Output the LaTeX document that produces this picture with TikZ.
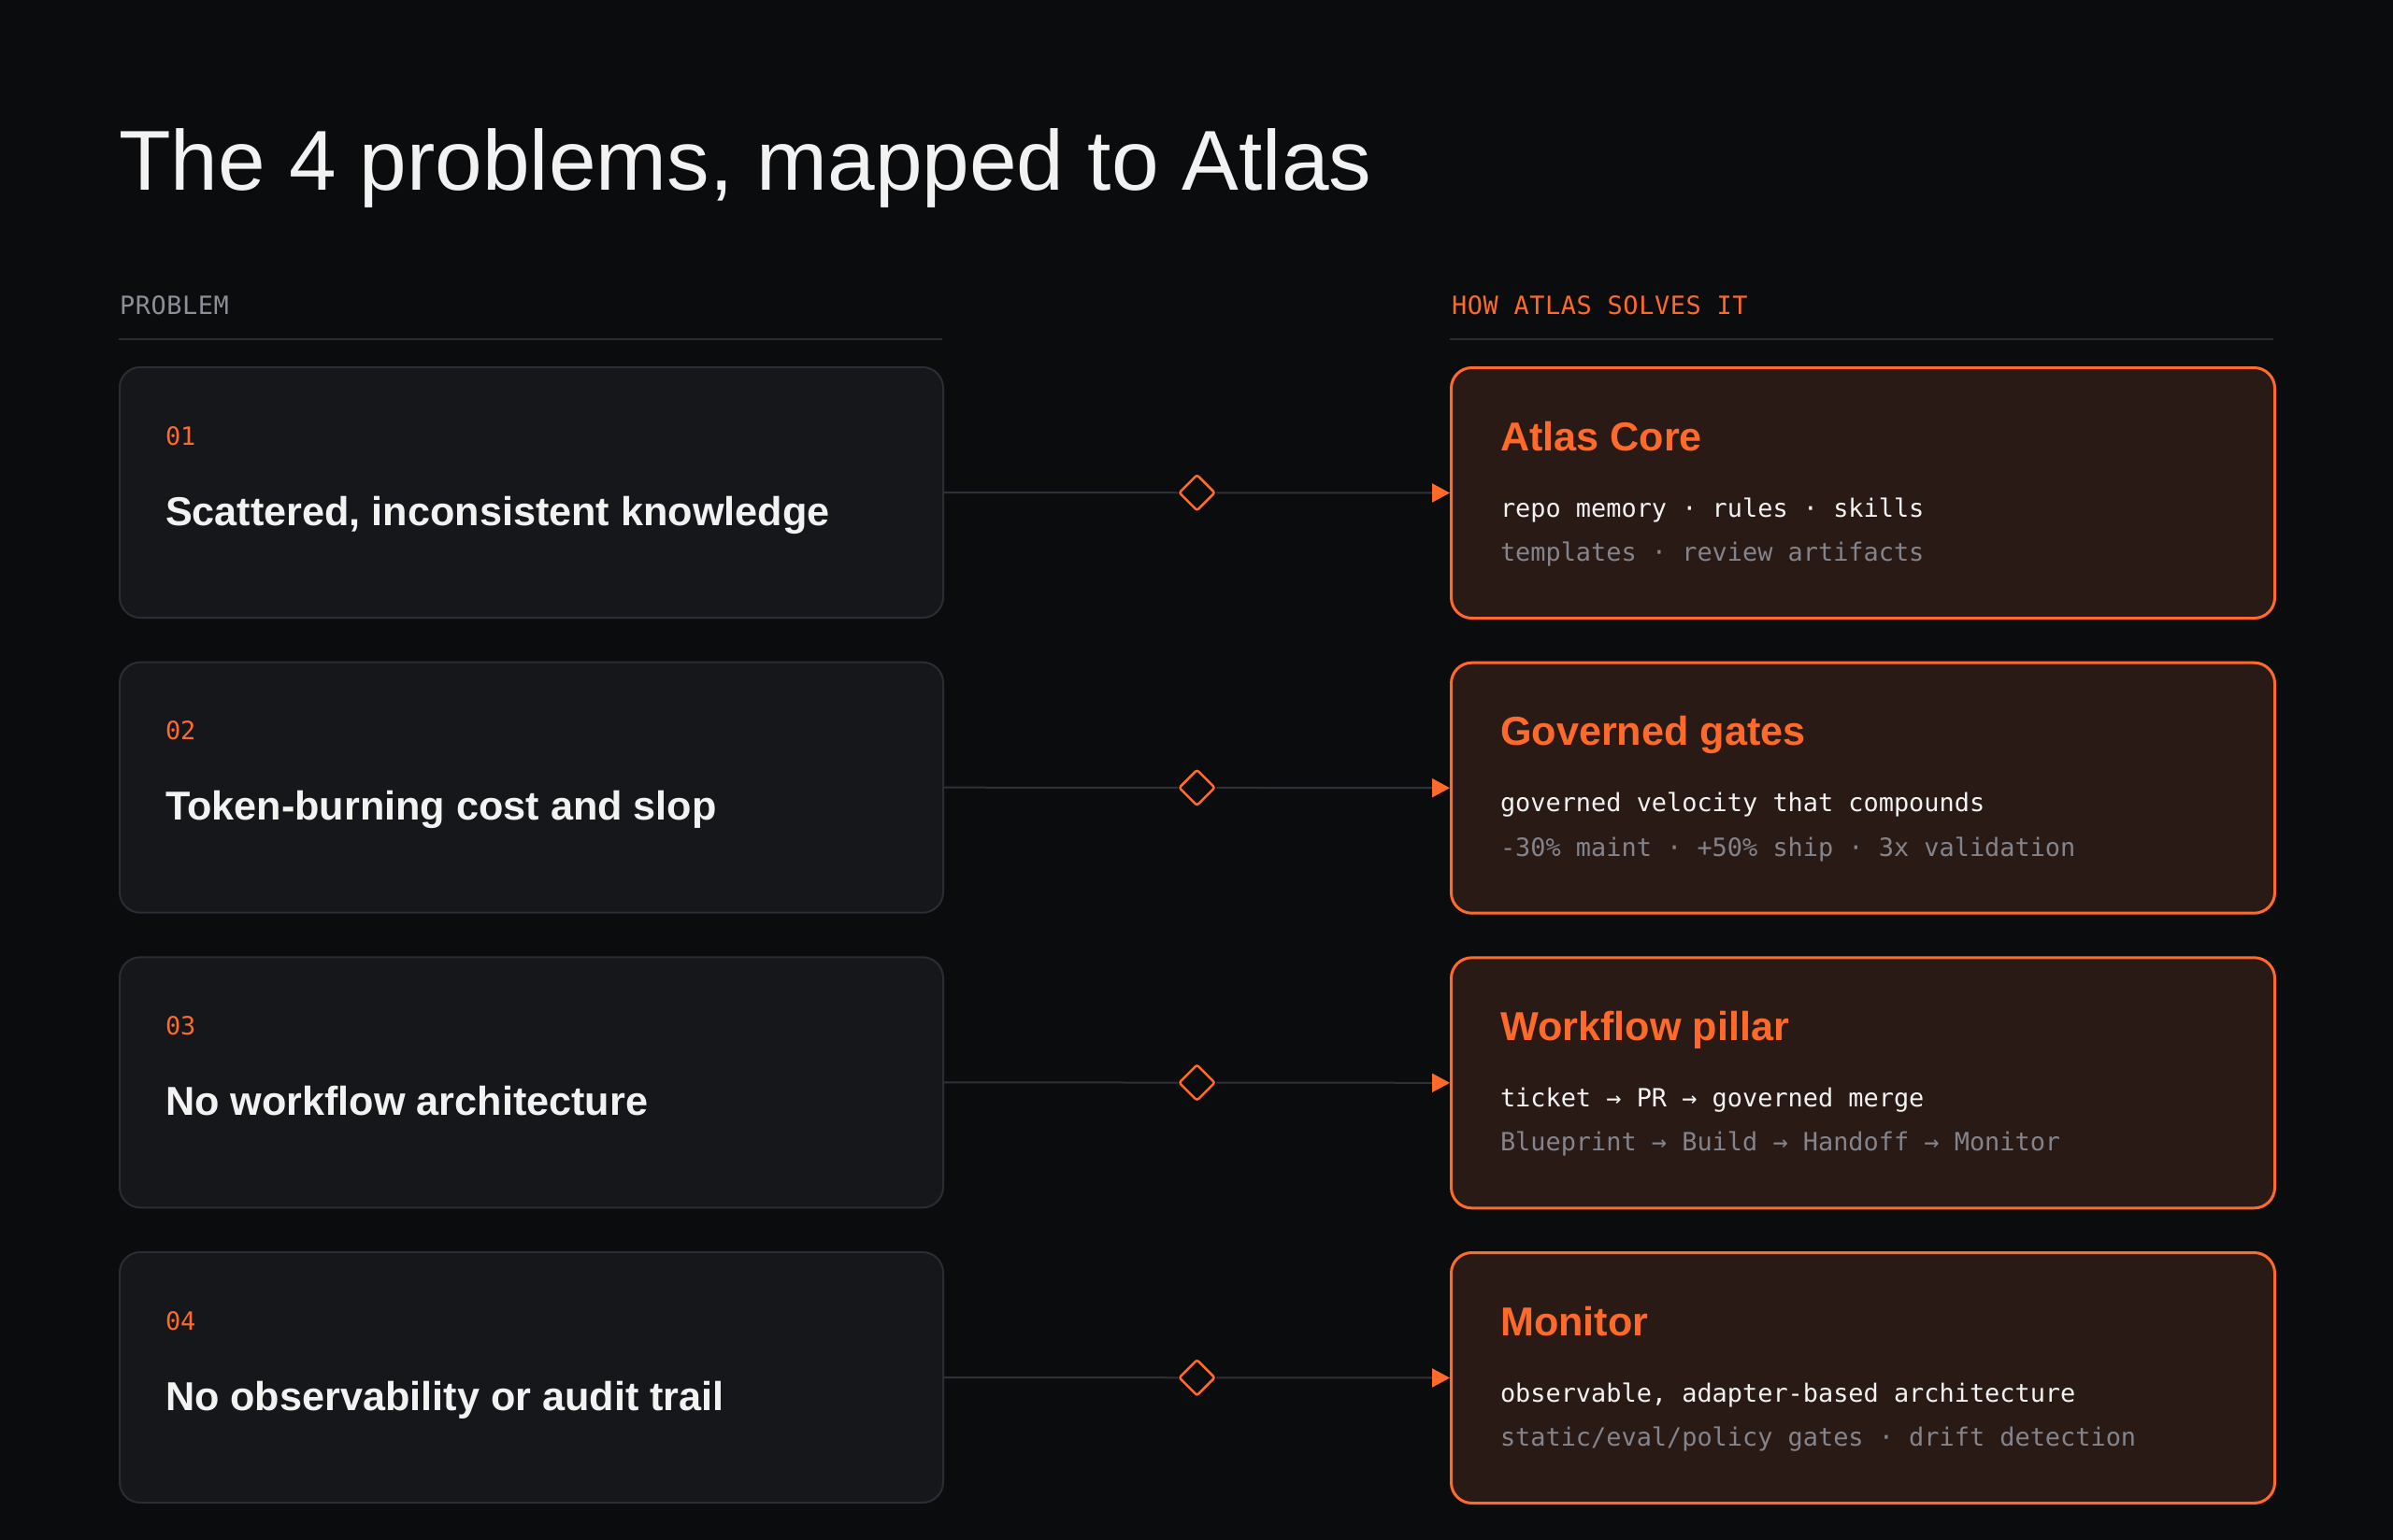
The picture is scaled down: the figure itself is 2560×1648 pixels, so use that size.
\documentclass[tikz,border=0pt]{standalone}
\usepackage{fontspec}
\setmainfont{Liberation Sans}
\newfontfamily\monof{DejaVu Sans Mono}
\newfontfamily\hdrf[LetterSpace=2.2]{DejaVu Sans Mono}
\usetikzlibrary{arrows.meta,shapes.geometric,calc}
\definecolor{bg}{HTML}{0B0C0E}
\definecolor{pfill}{HTML}{16171B}
\definecolor{pline}{HTML}{2B2D34}
\definecolor{sfill}{HTML}{2A1A15}
\definecolor{accent}{HTML}{FF6A2B}
\definecolor{wtext}{HTML}{F2F2F2}
\definecolor{dimtext}{HTML}{84848C}
\definecolor{hdrgray}{HTML}{8C8F97}
\definecolor{rule}{HTML}{2A2C31}
\definecolor{conncol}{HTML}{2F3139}
\begin{document}
\begin{tikzpicture}[x=0.5pt,y=-0.5pt,
  pcard/.style={draw=pline, fill=pfill, line width=1pt, rounded corners=11pt,
    minimum width=440.5pt, minimum height=134pt, inner sep=0pt, anchor=north west},
  scard/.style={draw=accent, fill=sfill, line width=1.5pt, rounded corners=11pt,
    minimum width=440.5pt, minimum height=134pt, inner sep=0pt, anchor=north west},
  txt/.style={anchor=base west, inner sep=0pt, outer sep=0pt},
  numtxt/.style={txt, text=accent, font=\monof\fontsize{13.45pt}{16pt}\selectfont},
  ptitle/.style={txt, text=wtext, font=\bfseries\fontsize{21.6pt}{26pt}\selectfont},
  stitle/.style={txt, text=accent, font=\bfseries\fontsize{21.6pt}{26pt}\selectfont},
  sline/.style={txt, text=wtext, font=\monof\fontsize{13.45pt}{16pt}\selectfont},
  sdim/.style={txt, text=dimtext, font=\monof\fontsize{13.45pt}{16pt}\selectfont},
  hdr/.style={txt, font=\hdrf\fontsize{13.45pt}{16pt}\selectfont},
  hline/.style={draw=rule, line width=1pt},
  conn/.style={draw=conncol, line width=1pt},
  tipped/.style={-{Triangle[length=9.5pt,width=10pt,color=accent]}},
  dia/.style={shape=diamond, draw=accent, fill=bg, line width=1.25pt, inner sep=0pt,
    minimum width=19.5pt, minimum height=19.5pt, rounded corners=1.2pt}
]
\fill[bg] (0,0) rectangle (2560,1648);
\useasboundingbox (0,0) rectangle (2560,1648);

% title
\node[txt, text=wtext, font=\fontsize{45.5pt}{52pt}\selectfont] (title) at (127,204)
  {The 4 problems, mapped to Atlas};

% headers
\node[hdr, text=hdrgray] (hl) at (128,336) {PROBLEM};
\node[hdr, text=accent] (hr) at (1553,336) {HOW ATLAS SOLVES IT};
\draw[hline] (127,362.5) -- (1008,362.5);
\draw[hline] (1551,362.5) -- (2432,362.5);

% cards
\foreach \i/\t in {1/392, 2/707.7, 3/1023.3, 4/1339} {
  \node[pcard] (p\i) at (127,\t) {};
  \node[scard] (s\i) at (1551,\t) {};
}

% problem texts
\node[numtxt] (p1n) at ($(p1.north west)+(50,84)$) {01};
\node[ptitle] (p1t) at ($(p1.north west)+(50,170)$) {Scattered, inconsistent knowledge};
\node[numtxt] (p2n) at ($(p2.north west)+(50,84)$) {02};
\node[ptitle] (p2t) at ($(p2.north west)+(50,170)$) {Token-burning cost and slop};
\node[numtxt] (p3n) at ($(p3.north west)+(50,84)$) {03};
\node[ptitle] (p3t) at ($(p3.north west)+(50,170)$) {No workflow architecture};
\node[numtxt] (p4n) at ($(p4.north west)+(50,84)$) {04};
\node[ptitle] (p4t) at ($(p4.north west)+(50,170)$) {No observability or audit trail};

% solution texts
\node[stitle] (s1t) at ($(s1.north west)+(54,90)$) {Atlas Core};
\node[sline] (s1a) at ($(s1.north west)+(54,161)$) {repo memory · rules · skills};
\node[sdim] (s1b) at ($(s1.north west)+(54,208.5)$) {templates · review artifacts};

\node[stitle] (s2t) at ($(s2.north west)+(54,90)$) {Governed gates};
\node[sline] (s2a) at ($(s2.north west)+(54,161)$) {governed velocity that compounds};
\node[sdim] (s2b) at ($(s2.north west)+(54,208.5)$) {-30\% maint · +50\% ship · 3x validation};

\node[stitle] (s3t) at ($(s3.north west)+(54,90)$) {Workflow pillar};
\node[sline] (s3a) at ($(s3.north west)+(54,161)$) {ticket → PR → governed merge};
\node[sdim] (s3b) at ($(s3.north west)+(54,208.5)$) {Blueprint → Build → Handoff → Monitor};

\node[stitle] (s4t) at ($(s4.north west)+(54,90)$) {Monitor};
\node[sline] (s4a) at ($(s4.north west)+(54,161)$) {observable, adapter-based architecture};
\node[sdim] (s4b) at ($(s4.north west)+(54,208.5)$) {static/eval/policy gates · drift detection};

% connectors
\foreach \i in {1,2,3,4} {
  \node[dia] (d\i) at ($(p\i.east)!0.5!(s\i.west)$) {};
  \draw[conn] (p\i.east) -- (d\i.west);
  \draw[conn, tipped] (d\i.east) -- (s\i.west);
}
\end{tikzpicture}
\end{document}
